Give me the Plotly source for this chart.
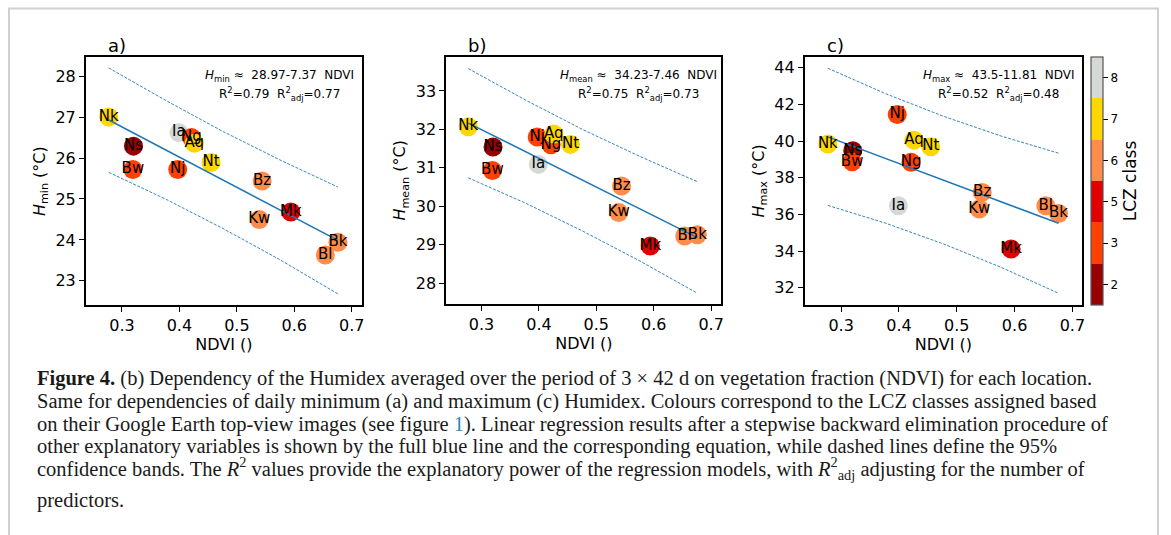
import plotly.graph_objects as go

W, H = 1171, 535

# ---------------- data ----------------
sites = ["Nk", "Ns", "Bw", "Ia", "Nj", "Ng", "Aq", "Nt", "Bz", "Kw", "Mk", "Bl", "Bk"]
ndvi = [0.277, 0.320, 0.319, 0.399, 0.397, 0.421, 0.426, 0.455, 0.544, 0.539, 0.594, 0.654, 0.676]
lcz = [7, 2, 3, 8, 3, 3, 7, 7, 6, 6, 5, 6, 6]
h_min = [27.00, 26.29, 25.72, 26.62, 25.72, 26.50, 26.36, 25.89, 25.44, 24.50, 24.68, 23.63, 23.94]
h_mean = [32.07, 31.54, 30.93, 31.09, 31.80, 31.60, 31.88, 31.61, 30.53, 29.84, 28.97, 29.23, 29.26]
h_max = [39.84, 39.47, 38.87, 36.47, 41.45, 38.84, 40.05, 39.69, 37.20, 36.29, 34.11, 36.47, 36.05]

# regression (intercept, slope) as printed on the panels
fit_min = (28.97, -7.37)
fit_mean = (34.23, -7.46)
fit_max = (43.5, -11.81)

# 95% band curves
band_x = [0.277, 0.377, 0.477, 0.577, 0.676]
band_min_up = [28.20, 27.40, 26.64, 25.94, 25.29]
band_min_lo = [25.65, 24.99, 24.27, 23.50, 22.68]
band_mean_up = [33.58, 32.76, 31.99, 31.29, 30.64]
band_mean_lo = [30.74, 30.08, 29.35, 28.57, 27.74]
band_max_up = [43.97, 42.58, 41.35, 40.27, 39.34]
band_max_lo = [36.49, 35.52, 34.39, 33.11, 31.70]

lcz_classes = [2, 3, 5, 6, 7, 8]
lcz_colors = ["#990000", "#ff4000", "#e00000", "#ff8c4a", "#ffd700", "#d5d9d5"]

x_ticks = [0.3, 0.4, 0.5, 0.6, 0.7]
y_ticks_min = [23, 24, 25, 26, 27, 28]
y_ticks_mean = [28, 29, 30, 31, 32, 33]
y_ticks_max = [32, 34, 36, 38, 40, 42, 44]

eq_texts = [
    ("<i>H</i><sub>min</sub>\u00a0\u2248\u00a0\u00a028.97-7.37\u00a0\u00a0NDVI",
     "R<sup>2</sup>=0.79\u00a0\u00a0R<sup>2</sup><sub>adj</sub>=0.77"),
    ("<i>H</i><sub>mean</sub>\u00a0\u2248\u00a0\u00a034.23-7.46\u00a0\u00a0NDVI",
     "R<sup>2</sup>=0.75\u00a0\u00a0R<sup>2</sup><sub>adj</sub>=0.73"),
    ("<i>H</i><sub>max</sub>\u00a0\u2248\u00a0\u00a043.5-11.81\u00a0\u00a0NDVI",
     "R<sup>2</sup>=0.52\u00a0\u00a0R<sup>2</sup><sub>adj</sub>=0.48"),
]
y_titles = ["<i>H</i><sub>min</sub> (°C)", "<i>H</i><sub>mean</sub> (°C)", "<i>H</i><sub>max</sub> (°C)"]
panel_letters = ["a)", "b)", "c)"]

caption_lines = [
    "<b>Figure 4.</b> (b) Dependency of the Humidex averaged over the period of 3 \u00d7 42 d on vegetation fraction (NDVI) for each location.",
    "Same for dependencies of daily minimum (a) and maximum (c) Humidex. Colours correspond to the LCZ classes assigned based",
    "on their Google Earth top-view images (see figure <span style='color:#2b83c0'>1</span>). Linear regression results after a stepwise backward elimination procedure of",
    "other explanatory variables is shown by the full blue line and the corresponding equation, while dashed lines define the 95%",
    "confidence bands. The <i>R</i><sup>2</sup> values provide the explanatory power of the regression models, with <i>R</i><sup>2</sup><sub>adj</sub> adjusting for the number of",
    "predictors.",
]

# ---------------- layout helpers ----------------
def fx(px):
    return px / W


def fy(py):
    return 1 - py / H


# axes pixel boxes (left, right, top, bottom) and ranges
boxes = [(86, 363, 57.3, 305), (447.3, 723.3, 56.7, 304), (806.7, 1085, 56.7, 305)]
x_ranges = [[0.237, 0.718], [0.2384, 0.718], [0.2368, 0.717]]
y_ranges = [[22.41, 28.46], [27.46, 33.89], [31.06, 44.6]]
y_tick_sets = [y_ticks_min, y_ticks_mean, y_ticks_max]
series = [h_min, h_mean, h_max]
fits = [fit_min, fit_mean, fit_max]
bands = [(band_min_up, band_min_lo), (band_mean_up, band_mean_lo), (band_max_up, band_max_lo)]

cls_index = [lcz_classes.index(c) + 1 for c in lcz]
n = len(lcz_colors)
colorscale = []
for i, c in enumerate(lcz_colors):
    colorscale.append([i / n, c])
    colorscale.append([(i + 1) / n, c])

fig = go.Figure()
FONT = "DejaVu Sans"
BLUE = "#1f77b4"

x_lo, x_hi = min(ndvi), max(ndvi)

for k in range(3):
    xa = "x" if k == 0 else f"x{k+1}"
    ya = "y" if k == 0 else f"y{k+1}"
    ys = series[k]
    b0, b1 = fits[k]
    mk = dict(size=19, color=cls_index, colorscale=colorscale, cmin=0.5, cmax=n + 0.5,
              line=dict(width=0), opacity=1)
    if k == 2:
        mk.update(showscale=True, colorbar=dict(
            x=fx(1094.3), xanchor="left", xpad=0, ypad=0,
            y=fy(181), yanchor="middle", len=248, lenmode="pixels",
            thickness=12, outlinewidth=1.2, outlinecolor="#555555",
            tickmode="array", tickvals=list(range(1, n + 1)), ticktext=[str(c) for c in lcz_classes],
            ticks="outside", ticklen=5, tickwidth=1.2, tickcolor="black",
            tickfont=dict(family=FONT, size=12, color="black"),
            title=dict(text="LCZ class", side="right", font=dict(family=FONT, size=17, color="black")),
        ))
    else:
        mk.update(showscale=False)
    fig.add_trace(go.Scatter(x=ndvi, y=ys, mode="markers", marker=mk, xaxis=xa, yaxis=ya,
                             showlegend=False, hoverinfo="skip"))
    fig.add_trace(go.Scatter(x=[x_lo, x_hi], y=[b0 + b1 * x_lo, b0 + b1 * x_hi], mode="lines",
                             line=dict(color=BLUE, width=1.5), xaxis=xa, yaxis=ya,
                             showlegend=False, hoverinfo="skip"))
    for band in bands[k]:
        fig.add_trace(go.Scatter(x=band_x, y=band, mode="lines",
                                 line=dict(color=BLUE, width=0.9, dash="3px,1.5px"),
                                 xaxis=xa, yaxis=ya, showlegend=False, hoverinfo="skip"))
    fig.add_trace(go.Scatter(x=ndvi, y=ys, mode="text", text=sites, textposition="middle center",
                             textfont=dict(family=FONT, size=15, color="black"),
                             xaxis=xa, yaxis=ya, showlegend=False, hoverinfo="skip"))

axis_common = dict(showline=True, linecolor="black", linewidth=1.6, mirror=True,
                   ticks="outside", ticklen=5, tickwidth=1.3, tickcolor="black",
                   showgrid=False, zeroline=False,
                   tickfont=dict(family=FONT, size=16, color="black"))

layout = dict(width=W, height=H, margin=dict(l=0, r=0, t=0, b=0),
              paper_bgcolor="white", plot_bgcolor="white", showlegend=False)

annotations = []
for k in range(3):
    l, r, t, b = boxes[k]
    sx = "" if k == 0 else str(k + 1)
    layout[f"xaxis{sx}"] = dict(axis_common, domain=[fx(l), fx(r)], range=x_ranges[k],
                                anchor=f"y{sx}", tickvals=x_ticks, ticktext=[f"{v:.1f}" for v in x_ticks],
                                title=dict(text="NDVI ()", standoff=4,
                                           font=dict(family=FONT, size=16, color="black")))
    layout[f"yaxis{sx}"] = dict(axis_common, domain=[fy(b), fy(t)], range=y_ranges[k],
                                anchor=f"x{sx}", tickvals=y_tick_sets[k],
                                title=dict(text=y_titles[k], standoff=6,
                                           font=dict(family=FONT, size=16, color="black")))
    annotations.append(dict(x=fx(l + 20), y=fy(45), xref="paper", yref="paper", text=panel_letters[k],
                            showarrow=False, xanchor="left", yanchor="middle",
                            font=dict(family=FONT, size=18, color="black")))
    cx = l + 0.70 * (r - l)
    annotations.append(dict(x=fx(cx), y=fy(t + 19), xref="paper", yref="paper", text=eq_texts[k][0],
                            showarrow=False, xanchor="center", yanchor="middle",
                            font=dict(family=FONT, size=12, color="black")))
    annotations.append(dict(x=fx(cx), y=fy(t + 37), xref="paper", yref="paper", text=eq_texts[k][1],
                            showarrow=False, xanchor="center", yanchor="middle",
                            font=dict(family=FONT, size=12, color="black")))

cap_y = [379, 401, 424, 446, 468, 500]
for line, yy in zip(caption_lines, cap_y):
    annotations.append(dict(x=fx(35), y=fy(yy), xref="paper", yref="paper", text=line,
                            showarrow=False, xanchor="left", yanchor="middle", align="left",
                            font=dict(family="Liberation Serif", size=20.5, color="#1a1a1a")))

layout["annotations"] = annotations
layout["shapes"] = [dict(type="rect", xref="paper", yref="paper",
                         x0=fx(9), x1=fx(1161), y0=-0.05, y1=fy(8.5),
                         line=dict(color="#d0d0d0", width=2), fillcolor="rgba(0,0,0,0)")]

fig.update_layout(**layout)
fig.write_html("out.html", config={"displayModeBar": False},
               post_script="document.body.style.margin='0';document.body.style.overflow='hidden';")
